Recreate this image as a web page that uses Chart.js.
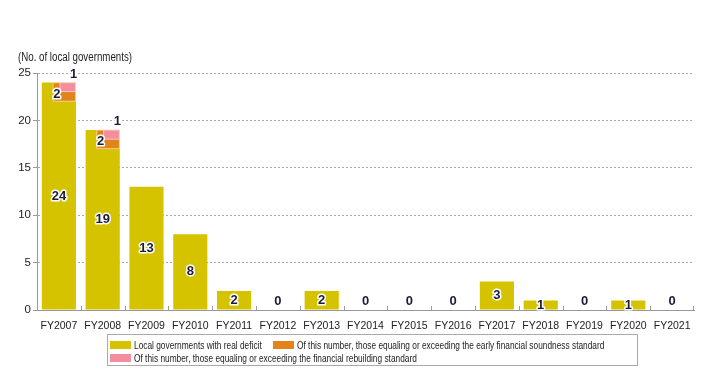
<!DOCTYPE html>
<html>
<head>
<meta charset="utf-8">
<script src="https://cdn.jsdelivr.net/npm/chart.js@4"></script>
<style>
  html, body { margin: 0; padding: 0; background: #fff; }
  #wrap { position: relative; width: 721px; height: 388px; }
  .txt { font-family: "Liberation Sans", Arial, sans-serif; color: #222; display: inline-block; transform-origin: 0 50%; white-space: nowrap; }
  #unit { position: absolute; left: 18px; top: 50px; font-size: 12px; transform: scaleX(0.81); }
  #legend { position: absolute; left: 107px; top: 334px; width: 531px; height: 32px; border: 1px solid #aaa; box-sizing: border-box; }
  .item { position: absolute; white-space: nowrap; font-size: 11px; line-height: 12px; }
  .sw { position: absolute; width: 21px; height: 8px; top: 2px; }
  .item .txt { position: absolute; left: 24px; top: 0; font-size: 11px; transform: scaleX(0.757); }
</style>
</head>
<body>
<div id="wrap">
  <canvas id="chart" width="721" height="388"></canvas>
  <div id="unit" class="txt">(No. of local governments)</div>
  <div id="legend">
    <div class="item" style="left:2px;top:4px"><span class="sw" style="background:#d6c300"></span><span class="txt">Local governments with real deficit</span></div>
    <div class="item" style="left:165px;top:4px"><span class="sw" style="background:#e3831c"></span><span class="txt">Of this number, those equaling or exceeding the early financial soundness standard</span></div>
    <div class="item" style="left:2px;top:17px"><span class="sw" style="background:#f48d9c"></span><span class="txt">Of this number, those equaling or exceeding the financial rebuilding standard</span></div>
  </div>
</div>
<script>
// 年度と団体数
const fiscalYears = ['FY2007', 'FY2008', 'FY2009', 'FY2010', 'FY2011', 'FY2012', 'FY2013', 'FY2014',
                     'FY2015', 'FY2016', 'FY2017', 'FY2018', 'FY2019', 'FY2020', 'FY2021'];
const deficitCounts = [24, 19, 13, 8, 2, 0, 2, 0, 0, 0, 3, 1, 0, 1, 0];
const earlyCounts   = [2, 2, 0, 0, 0, 0, 0, 0, 0, 0, 0, 0, 0, 0, 0];
const rebuildCounts = [1, 1, 0, 0, 0, 0, 0, 0, 0, 0, 0, 0, 0, 0, 0];
const yTicks = [0, 5, 10, 15, 20, 25];

// 内訳は棒の上端から下へ重ねる
const earlyData = [];
const rebuildData = [];
deficitCounts.forEach((v, i) => {
    if (earlyCounts[i] > 0) earlyData.push({ x: i, y: [v - earlyCounts[i], v], n: earlyCounts[i] });
    if (rebuildCounts[i] > 0) rebuildData.push({ x: i, y: [v - rebuildCounts[i], v], n: rebuildCounts[i] });
});

function hGrad(ctx, c1, c2) {
    const el = ctx.element;
    const chart = ctx.chart;
    if (!el || !el.width) return c1;
    const g = chart.ctx.createLinearGradient(el.x - el.width / 2, 0, el.x + el.width / 2, 0);
    g.addColorStop(0, c1);
    g.addColorStop(0.5, c1);
    g.addColorStop(1, c2);
    return g;
}

const FONT = '"Liberation Sans", Arial, sans-serif';

function drawLabel(c, text, x, y) {
    c.font = 'bold 13px "Liberation Sans", Arial, sans-serif';
    c.textAlign = 'center';
    c.textBaseline = 'middle';
    c.lineJoin = 'round';
    c.lineWidth = 3;
    c.strokeStyle = '#fff';
    c.strokeText(text, x, y);
    c.fillStyle = '#1c1c38';
    c.fillText(text, x, y);
}

const labelPlugin = {
    id: 'labels',
    afterDatasetsDraw(chart) {
        const c = chart.ctx;
        c.save();
        chart.getDatasetMeta(0).data.forEach((bar, i) => {
            const v = deficitCounts[i];
            const y = v > 0 ? (bar.y + bar.base) / 2 : bar.base - 9;
            drawLabel(c, String(v), bar.x, y);
        });
        chart.getDatasetMeta(1).data.forEach((bar, i) => {
            drawLabel(c, String(earlyData[i].n), bar.x - bar.width / 2 + 4, (bar.y + bar.base) / 2 + 2);
        });
        chart.getDatasetMeta(2).data.forEach((bar, i) => {
            drawLabel(c, String(rebuildData[i].n), bar.x + bar.width / 2 - 2, bar.y - 8);
        });
        // x軸の区切り目盛り（上向き）
        const xs = chart.scales.x;
        c.strokeStyle = '#999';
        c.lineWidth = 1;
        for (let i = 0; i < fiscalYears.length; i++) {
            const px = Math.round((xs.getPixelForValue(i) + xs.getPixelForValue(i + 1)) / 2) + 0.5;
            const bx = i === fiscalYears.length - 1 ? chart.chartArea.right - 0.5 : px;
            c.beginPath();
            c.moveTo(bx, xs.top);
            c.lineTo(bx, xs.top - 4);
            c.stroke();
        }
        c.restore();
    }
};

new Chart(document.getElementById('chart'), {
    type: 'bar',
    data: {
        labels: fiscalYears,
        datasets: [
            {
                label: 'Local governments with real deficit',
                data: deficitCounts,
                backgroundColor: ctx => hGrad(ctx, '#d6c300', '#e8da6a'),
                grouped: false,
                barPercentage: 0.78,
                categoryPercentage: 1,
                order: 3
            },
            {
                label: 'Of this number, those equaling or exceeding the early financial soundness standard',
                data: earlyData,
                xAxisID: 'xEarly',
                backgroundColor: ctx => hGrad(ctx, '#e3831c', '#eeaa62'),
                borderColor: '#f6d6a8',
                borderWidth: 1,
                borderSkipped: false,
                grouped: false,
                barThickness: 23,
                order: 2
            },
            {
                label: 'Of this number, those equaling or exceeding the financial rebuilding standard',
                data: rebuildData,
                xAxisID: 'xRebuild',
                backgroundColor: ctx => hGrad(ctx, '#f48d9c', '#f7b0bb'),
                borderColor: '#fbd3d9',
                borderWidth: 1,
                borderSkipped: false,
                grouped: false,
                barThickness: 16,
                order: 1
            }
        ]
    },
    options: {
        responsive: false,
        animation: false,
        layout: { padding: { top: 73, right: 27, bottom: 50, left: 0 } },
        plugins: {
            legend: { display: false },
            tooltip: { enabled: false }
        },
        scales: {
            x: {
                grid: { display: false },
                border: { color: '#999', width: 1 },
                ticks: { color: '#222', font: { family: FONT, size: 10.5 }, padding: 2, maxRotation: 0, autoSkip: false },
                afterFit: s => { s.height = 28; }
            },
            xEarly: {
                type: 'linear', display: false, offset: false,
                min: -0.5 - 0.123, max: 14.5 - 0.123
            },
            xRebuild: {
                type: 'linear', display: false, offset: false,
                min: -0.5 - 0.2, max: 14.5 - 0.2
            },
            y: {
                min: 0, max: 25,
                afterBuildTicks: s => { s.ticks = yTicks.map(v => ({ value: v })); },
                grid: {
                    color: ctx => ctx.tick && ctx.tick.value === 0 ? 'rgba(0,0,0,0)' : '#aaa',
                    tickColor: '#999',
                    tickLength: 4
                },
                border: { color: '#999', width: 1, dash: [2, 2] },
                ticks: { color: '#222', font: { family: FONT, size: 11.5 }, padding: 2 },
                afterFit: s => { s.width = 37; }
            }
        }
    },
    plugins: [labelPlugin]
});
</script>
</body>
</html>
